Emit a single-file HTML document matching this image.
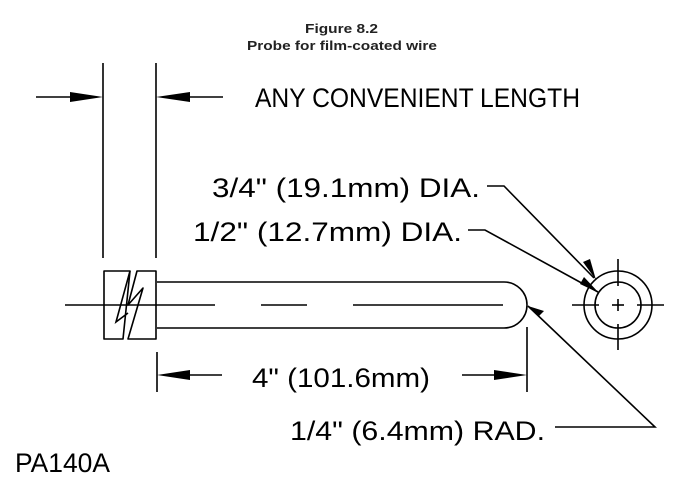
<!DOCTYPE html>
<html><head><meta charset="utf-8"><style>
html,body{margin:0;padding:0;background:#fff;}
svg{display:block}
.t{font-family:"Liberation Sans",sans-serif;font-size:27px;fill:#000;}
</style></head><body>
<svg width="693" height="490" viewBox="0 0 693 490" xmlns="http://www.w3.org/2000/svg">
<g font-family="Liberation Sans, sans-serif" font-weight="bold" font-size="13" fill="#222">
<text x="305" y="33" textLength="73" lengthAdjust="spacingAndGlyphs">Figure 8.2</text>
<text x="247" y="50" textLength="190" lengthAdjust="spacingAndGlyphs">Probe for film-coated wire</text>
</g>
<g stroke="#000" stroke-width="1.6" fill="none">
<line x1="103" y1="63" x2="103" y2="258"/>
<line x1="156" y1="63" x2="156" y2="258"/>
<line x1="36" y1="97" x2="70" y2="97"/>
<line x1="190" y1="97" x2="223" y2="97"/>
<path d="M157 282 H504 A23 23 0 0 1 504 328 H157"/>
<line x1="65" y1="305" x2="215" y2="305"/>
<line x1="261" y1="305" x2="307" y2="305"/>
<line x1="353" y1="305" x2="503" y2="305"/>
<path d="M130 271 H104 V339 H123 Z" stroke-linejoin="round"/>
<path d="M137 271 H156 V339 H128 L143 288 L128 305 Z" stroke-linejoin="round"/>
<path d="M130 271 L116 322 L128 313" />
<line x1="157" y1="352" x2="157" y2="392"/>
<line x1="527" y1="327" x2="527" y2="392"/>
<line x1="190" y1="375" x2="222" y2="375"/>
<line x1="462" y1="375" x2="494" y2="375"/>
<circle cx="618" cy="305" r="34"/>
<circle cx="618" cy="305" r="23"/>
<line x1="618" y1="259" x2="618" y2="286"/>
<line x1="618" y1="299" x2="618" y2="311"/>
<line x1="618" y1="324" x2="618" y2="350"/>
<line x1="572" y1="305" x2="599" y2="305"/>
<line x1="612" y1="305" x2="624" y2="305"/>
<line x1="637" y1="305" x2="664" y2="305"/>
<polyline points="487,186 504,186 594,278"/>
<polyline points="468,230 485,230 598,292"/>
<polyline points="555,427 655,427 528,306"/>
</g>
<g fill="#000">
<polygon points="103,97 70,92 70,102"/>
<polygon points="156,97 190,92 190,102"/>
<polygon points="157,375 190,370 190,380"/>
<polygon points="527,375 494,370 494,380"/>
<polygon points="596,280 583,262 590,259"/>
<polygon points="599,293 580,284 584,277"/>
<polygon points="528,306 539,316 544,311"/>
</g>
<g class="t" font-weight="300">
<text x="255" y="107" textLength="325" lengthAdjust="spacingAndGlyphs">ANY CONVENIENT LENGTH</text>
<text x="212" y="197" textLength="268" lengthAdjust="spacingAndGlyphs">3/4" (19.1mm) DIA.</text>
<text x="193" y="241" textLength="269" lengthAdjust="spacingAndGlyphs">1/2" (12.7mm) DIA.</text>
<text x="252" y="387" textLength="178" lengthAdjust="spacingAndGlyphs">4" (101.6mm)</text>
<text x="290" y="440" textLength="255" lengthAdjust="spacingAndGlyphs">1/4" (6.4mm) RAD.</text>
<text x="15" y="472" textLength="95" lengthAdjust="spacingAndGlyphs">PA140A</text>
</g>
</svg>
</body></html>
